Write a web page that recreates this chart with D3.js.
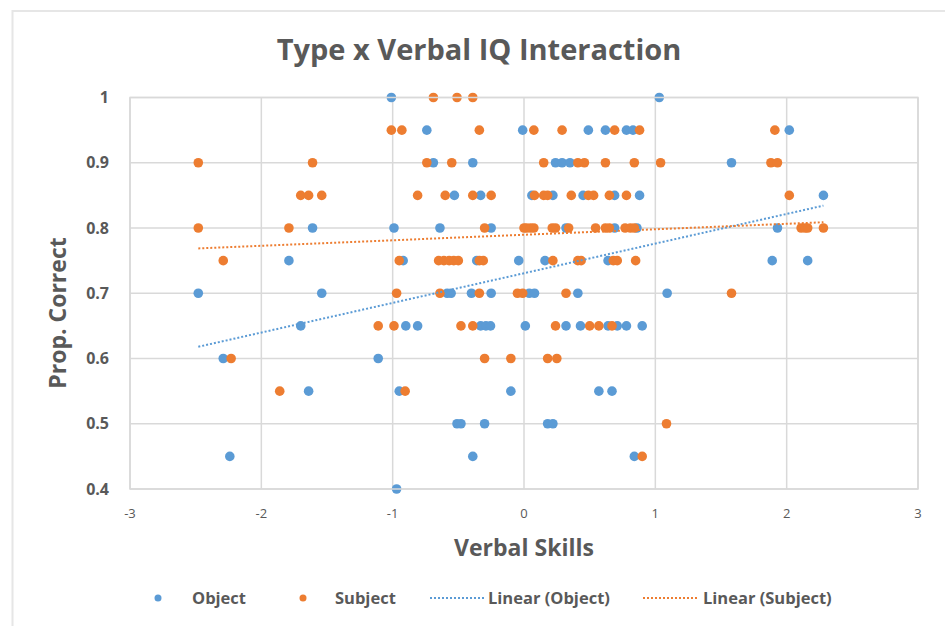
<!DOCTYPE html>
<html>
<head>
<meta charset="utf-8">
<script src="https://cdn.jsdelivr.net/npm/d3@7"></script>
<style>
  body { margin: 0; background: #fff; }
  text { font-family: "Open Sans", "Liberation Sans", sans-serif; fill: #595959; }
</style>
</head>
<body>
<svg id="chart" width="945" height="626"></svg>
<script>
// Object points, grouped by proportion correct
var objectRows = [
  [1.00, [-1.01, 1.03]],
  [0.95, [-0.74, -0.01, 0.49, 0.62, 0.78, 0.83, 2.02]],
  [0.90, [-0.69, -0.39, 0.24, 0.29, 0.35, 1.58]],
  [0.85, [-0.53, -0.33, 0.06, 0.22, 0.45, 0.69, 0.88, 2.28]],
  [0.80, [-1.61, -0.99, -0.64, -0.25, 0.32, 0.69, 0.86, 1.93]],
  [0.75, [-1.79, -0.92, -0.36, -0.04, 0.16, 0.64, 1.89, 2.16]],
  [0.70, [-2.48, -1.54, -0.585, -0.555, -0.40, -0.25, 0.04, 0.08, 0.41, 1.09]],
  [0.65, [-1.70, -0.90, -0.81, -0.33, -0.29, -0.255, 0.01, 0.32, 0.43, 0.64, 0.71, 0.78, 0.90]],
  [0.60, [-2.29, -1.11]],
  [0.55, [-1.64, -0.95, -0.10, 0.57, 0.67]],
  [0.50, [-0.51, -0.48, -0.30, 0.18, 0.22]],
  [0.45, [-2.24, -0.39, 0.84]],
  [0.40, [-0.97]]
];

// Subject points
var subjectRows = [
  [1.00, [-0.69, -0.51, -0.39]],
  [0.95, [-1.01, -0.93, -0.34, 0.075, 0.29, 0.69, 0.88, 1.91]],
  [0.90, [-2.48, -1.61, -0.74, -0.55, 0.15, 0.41, 0.46, 0.62, 0.84, 1.04, 1.88, 1.93]],
  [0.85, [-1.70, -1.64, -1.54, -0.81, -0.60, -0.39, -0.25, 0.08, 0.15, 0.18, 0.36, 0.49, 0.53, 0.65, 0.78, 2.02]],
  [0.80, [-2.48, -1.79, -0.30, 0.00, 0.02, 0.05, 0.075, 0.215, 0.24, 0.34, 0.545, 0.62, 0.65, 0.77, 0.81, 0.84, 2.11, 2.14, 2.16, 2.28]],
  [0.75, [-2.29, -0.95, -0.65, -0.61, -0.57, -0.535, -0.50, -0.34, -0.31, 0.22, 0.41, 0.435, 0.68, 0.71, 0.85]],
  [0.70, [-0.97, -0.64, -0.34, -0.05, -0.01, 0.32, 1.58]],
  [0.65, [-1.11, -0.99, -0.48, -0.39, 0.24, 0.50, 0.57, 0.67]],
  [0.60, [-2.23, -0.30, -0.10, 0.18, 0.25]],
  [0.55, [-1.86, -0.905]],
  [0.50, [1.085]],
  [0.45, [0.90]]
];

var xTicks = [-3, -2, -1, 0, 1, 2, 3];
var yTicks = [0.4, 0.5, 0.6, 0.7, 0.8, 0.9, 1];

var blue = "#5b9bd5", orange = "#ed7d31";

function flatten(rows) {
  var out = [];
  rows.forEach(function(r) {
    r[1].forEach(function(x) { out.push({x: x, y: r[0]}); });
  });
  return out;
}
var objectData = flatten(objectRows);
var subjectData = flatten(subjectRows);

// least squares, like Excel's linear trendline
function fit(data) {
  var mx = d3.mean(data, function(d) { return d.x }),
      my = d3.mean(data, function(d) { return d.y });
  var sxy = d3.sum(data, function(d) { return (d.x - mx) * (d.y - my) }),
      sxx = d3.sum(data, function(d) { return (d.x - mx) * (d.x - mx) });
  var b = sxy / sxx, a = my - b * mx;
  var ext = d3.extent(data, function(d) { return d.x });
  return ext.map(function(x) { return {x: x, y: a + b * x} });
}

var svg = d3.select("#chart");

// outer frame (only top and left edges visible in the crop)
svg.append("rect")
  .attr("x", 12.5).attr("y", 11)
  .attr("width", 960).attr("height", 640)
  .attr("fill", "none")
  .attr("stroke", "#e6e6e6")
  .attr("stroke-width", 2);

var margin = {left: 130, top: 97.5, right: 918, bottom: 489};

var xScale = d3.scaleLinear().domain([-3, 3]).range([margin.left, margin.right]);
var yScale = d3.scaleLinear().domain([0.4, 1]).range([margin.bottom, margin.top]);

// gridlines
svg.append("g").selectAll("line.hgrid")
  .data(yTicks)
  .enter().append("line")
  .attr("x1", margin.left).attr("x2", margin.right)
  .attr("y1", function(d) { return yScale(d) })
  .attr("y2", function(d) { return yScale(d) })
  .attr("stroke", "#d9d9d9").attr("stroke-width", 1.5);

svg.append("g").selectAll("line.vgrid")
  .data(xTicks)
  .enter().append("line")
  .attr("y1", margin.top).attr("y2", margin.bottom)
  .attr("x1", function(d) { return xScale(d) })
  .attr("x2", function(d) { return xScale(d) })
  .attr("stroke", "#d9d9d9").attr("stroke-width", 1.5);

// y tick labels
svg.append("g").selectAll("text")
  .data(yTicks)
  .enter().append("text")
  .attr("x", 109)
  .attr("y", function(d) { return yScale(d) })
  .attr("dy", "0.35em")
  .style("text-anchor", "end")
  .attr("font-size", 16)
  .attr("font-weight", 700)
  .text(function(d) { return d == 1 ? "1" : d3.format(".1f")(d) });

// x tick labels
svg.append("g").selectAll("text")
  .data(xTicks)
  .enter().append("text")
  .attr("x", function(d) { return xScale(d) })
  .attr("y", 518)
  .style("text-anchor", "middle")
  .attr("font-size", 13)
  .text(function(d) { return d });

// points
var pts = svg.append("g");
pts.selectAll("circle.obj")
  .data(objectData)
  .enter().append("circle")
  .attr("class", "obj")
  .attr("cx", function(d) { return xScale(d.x) })
  .attr("cy", function(d) { return yScale(d.y) })
  .attr("r", 4.8)
  .attr("fill", blue);

pts.selectAll("circle.subj")
  .data(subjectData)
  .enter().append("circle")
  .attr("class", "subj")
  .attr("cx", function(d) { return xScale(d.x) })
  .attr("cy", function(d) { return yScale(d.y) })
  .attr("r", 4.8)
  .attr("fill", orange);

// trendlines
var line = d3.line()
  .x(function(d) { return xScale(d.x) })
  .y(function(d) { return yScale(d.y) });

svg.append("path")
  .datum(fit(objectData))
  .attr("d", line)
  .attr("fill", "none")
  .attr("stroke", blue)
  .attr("stroke-width", 2)
  .attr("stroke-dasharray", "2,2");

svg.append("path")
  .datum(fit(subjectData))
  .attr("d", line)
  .attr("fill", "none")
  .attr("stroke", orange)
  .attr("stroke-width", 2)
  .attr("stroke-dasharray", "2,2");

// titles
svg.append("text")
  .attr("x", 479).attr("y", 60)
  .style("text-anchor", "middle")
  .attr("font-size", 29)
  .attr("font-weight", 700)
  .text("Type x Verbal IQ Interaction");

svg.append("text")
  .attr("x", 524).attr("y", 556)
  .style("text-anchor", "middle")
  .attr("font-size", 23)
  .attr("font-weight", 700)
  .text("Verbal Skills");

svg.append("text")
  .attr("transform", "translate(66,313) rotate(-90)")
  .style("text-anchor", "middle")
  .attr("font-size", 23)
  .attr("font-weight", 700)
  .text("Prop. Correct");

// legend
var legend = svg.append("g");
legend.append("circle").attr("cx", 158).attr("cy", 598).attr("r", 3.5).attr("fill", blue);
legend.append("text").attr("x", 192).attr("y", 604).attr("font-size", 16.5).attr("font-weight", 700).text("Object");
legend.append("circle").attr("cx", 303).attr("cy", 598).attr("r", 3.5).attr("fill", orange);
legend.append("text").attr("x", 335).attr("y", 604).attr("font-size", 16.5).attr("font-weight", 700).text("Subject");
legend.append("line").attr("x1", 430).attr("x2", 484).attr("y1", 598).attr("y2", 598)
  .attr("stroke", blue).attr("stroke-width", 2).attr("stroke-dasharray", "2,2");
legend.append("text").attr("x", 488).attr("y", 604).attr("font-size", 16.5).attr("font-weight", 700).text("Linear (Object)");
legend.append("line").attr("x1", 643).attr("x2", 699).attr("y1", 598).attr("y2", 598)
  .attr("stroke", orange).attr("stroke-width", 2).attr("stroke-dasharray", "2,2");
legend.append("text").attr("x", 703).attr("y", 604).attr("font-size", 16.5).attr("font-weight", 700).text("Linear (Subject)");

// plot area border
svg.append("rect")
  .attr("x", margin.left).attr("y", margin.top)
  .attr("width", margin.right - margin.left).attr("height", margin.bottom - margin.top)
  .attr("fill", "none").attr("stroke", "#d9d9d9").attr("stroke-width", 1.5);
</script>
</body>
</html>
